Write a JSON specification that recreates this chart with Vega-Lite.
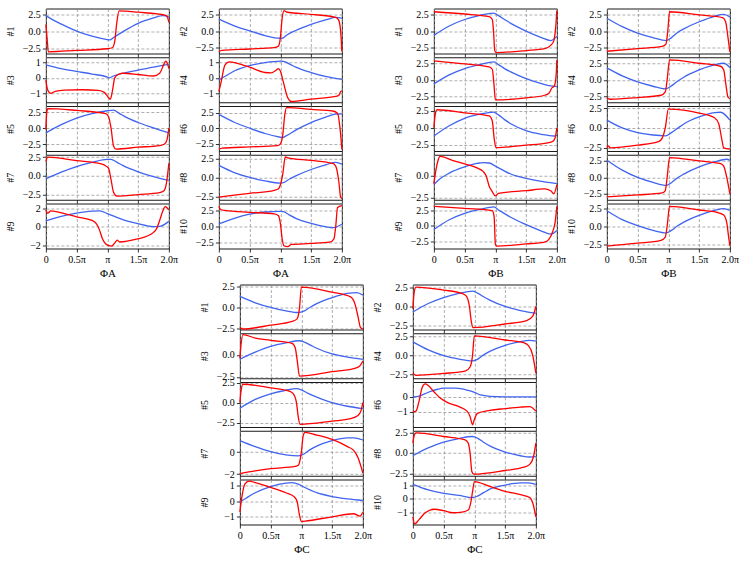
{
"$schema":"https://vega.github.io/schema/vega-lite/v6.json",
"padding":{"left":4.5,"top":6.5,"right":2,"bottom":2},
"config":{
 "font":"Liberation Serif",
 "view":{"stroke":"#1a1a1a","strokeWidth":1},
 "range":{"category":["#4064f0","#ff0000"]},
 "line":{"strokeWidth":1.3,"interpolate":"monotone","clip":true},
 "axis":{"labelFont":"Liberation Serif","labelFontSize":10,"labelColor":"#000","titleFont":"Liberation Serif","titleFontSize":10,"titleFontWeight":"normal","titleColor":"#000","gridColor":"#8c8c8c","gridDash":[3,2],"gridWidth":0.7,"tickColor":"#000","tickSize":3.5,"tickWidth":0.8,"domain":false,"labelPadding":2,"labelOverlap":false,"labelFlush":false},
 "axisY":{"titleX":-30,"titleY":22.5,"titleAngle":270,"titleBaseline":"bottom","titleAlign":"center"},
 "axisX":{"titlePadding":3,"titleFontSize":11}
},
"data":{"values":[
{"g":"A1","s":"b","x":0,"y":2.3},{"g":"A1","s":"b","x":0.1,"y":1.75},{"g":"A1","s":"b","x":0.25,"y":1.05},{"g":"A1","s":"b","x":0.5,"y":0},{"g":"A1","s":"b","x":0.75,"y":-0.75},{"g":"A1","s":"b","x":1.0,"y":-1.25},{"g":"A1","s":"b","x":1.04,"y":-1.3},{"g":"A1","s":"b","x":1.1,"y":-0.95},{"g":"A1","s":"b","x":1.25,"y":-0.1},{"g":"A1","s":"b","x":1.5,"y":1.15},{"g":"A1","s":"b","x":1.75,"y":1.95},{"g":"A1","s":"b","x":1.9,"y":2.3},{"g":"A1","s":"b","x":2.0,"y":2.1},
{"g":"A1","s":"r","x":0,"y":1.0},{"g":"A1","s":"r","x":0.02,"y":-1.0},{"g":"A1","s":"r","x":0.04,"y":-3.05},{"g":"A1","s":"r","x":0.5,"y":-2.85},{"g":"A1","s":"r","x":1.0,"y":-2.6},{"g":"A1","s":"r","x":1.08,"y":-2.45},{"g":"A1","s":"r","x":1.12,"y":-1.5},{"g":"A1","s":"r","x":1.15,"y":1.0},{"g":"A1","s":"r","x":1.19,"y":3.0},{"g":"A1","s":"r","x":1.5,"y":2.8},{"g":"A1","s":"r","x":1.95,"y":2.35},{"g":"A1","s":"r","x":1.98,"y":2.0},{"g":"A1","s":"r","x":2.0,"y":1.3},
{"g":"A2","s":"b","x":0,"y":1.8},{"g":"A2","s":"b","x":0.25,"y":0.8},{"g":"A2","s":"b","x":0.5,"y":0.05},{"g":"A2","s":"b","x":0.75,"y":-0.65},{"g":"A2","s":"b","x":1.0,"y":-1.05},{"g":"A2","s":"b","x":1.03,"y":-1.05},{"g":"A2","s":"b","x":1.1,"y":-0.6},{"g":"A2","s":"b","x":1.25,"y":0.1},{"g":"A2","s":"b","x":1.5,"y":1.0},{"g":"A2","s":"b","x":1.75,"y":1.7},{"g":"A2","s":"b","x":1.9,"y":2.05},{"g":"A2","s":"b","x":2.0,"y":1.95},
{"g":"A2","s":"r","x":0,"y":-3.05},{"g":"A2","s":"r","x":0.05,"y":-2.85},{"g":"A2","s":"r","x":0.5,"y":-2.65},{"g":"A2","s":"r","x":0.9,"y":-2.45},{"g":"A2","s":"r","x":0.97,"y":-2.2},{"g":"A2","s":"r","x":1.0,"y":-1.0},{"g":"A2","s":"r","x":1.03,"y":2.0},{"g":"A2","s":"r","x":1.06,"y":3.05},{"g":"A2","s":"r","x":1.1,"y":2.85},{"g":"A2","s":"r","x":1.5,"y":2.5},{"g":"A2","s":"r","x":1.9,"y":2.05},{"g":"A2","s":"r","x":1.95,"y":1.6},{"g":"A2","s":"r","x":1.98,"y":0},{"g":"A2","s":"r","x":2.0,"y":-3.0},
{"g":"A3","s":"b","x":0,"y":0.85},{"g":"A3","s":"b","x":0.25,"y":0.6},{"g":"A3","s":"b","x":0.5,"y":0.42},{"g":"A3","s":"b","x":0.75,"y":0.25},{"g":"A3","s":"b","x":1.0,"y":0.05},{"g":"A3","s":"b","x":1.03,"y":0.0},{"g":"A3","s":"b","x":1.1,"y":0.12},{"g":"A3","s":"b","x":1.25,"y":0.3},{"g":"A3","s":"b","x":1.5,"y":0.5},{"g":"A3","s":"b","x":1.75,"y":0.7},{"g":"A3","s":"b","x":2.0,"y":0.88},
{"g":"A3","s":"r","x":0,"y":-0.15},{"g":"A3","s":"r","x":0.03,"y":-0.8},{"g":"A3","s":"r","x":0.08,"y":-1.02},{"g":"A3","s":"r","x":0.15,"y":-0.88},{"g":"A3","s":"r","x":0.3,"y":-0.8},{"g":"A3","s":"r","x":0.6,"y":-0.78},{"g":"A3","s":"r","x":0.85,"y":-0.82},{"g":"A3","s":"r","x":0.95,"y":-0.95},{"g":"A3","s":"r","x":1.02,"y":-1.3},{"g":"A3","s":"r","x":1.05,"y":-1.4},{"g":"A3","s":"r","x":1.08,"y":-0.9},{"g":"A3","s":"r","x":1.12,"y":0.0},{"g":"A3","s":"r","x":1.17,"y":0.2},{"g":"A3","s":"r","x":1.25,"y":0.3},{"g":"A3","s":"r","x":1.5,"y":0.22},{"g":"A3","s":"r","x":1.75,"y":0.12},{"g":"A3","s":"r","x":1.85,"y":0.3},{"g":"A3","s":"r","x":1.92,"y":0.9},{"g":"A3","s":"r","x":1.95,"y":1.1},{"g":"A3","s":"r","x":1.98,"y":0.9},{"g":"A3","s":"r","x":2.0,"y":0.6},
{"g":"A4","s":"b","x":0,"y":-0.15},{"g":"A4","s":"b","x":0.1,"y":0.1},{"g":"A4","s":"b","x":0.25,"y":0.45},{"g":"A4","s":"b","x":0.5,"y":0.8},{"g":"A4","s":"b","x":0.75,"y":1.0},{"g":"A4","s":"b","x":1.0,"y":1.1},{"g":"A4","s":"b","x":1.05,"y":1.08},{"g":"A4","s":"b","x":1.15,"y":0.9},{"g":"A4","s":"b","x":1.25,"y":0.7},{"g":"A4","s":"b","x":1.5,"y":0.35},{"g":"A4","s":"b","x":1.75,"y":0.08},{"g":"A4","s":"b","x":2.0,"y":-0.1},
{"g":"A4","s":"r","x":0,"y":-0.9},{"g":"A4","s":"r","x":0.03,"y":-0.4},{"g":"A4","s":"r","x":0.1,"y":0.85},{"g":"A4","s":"r","x":0.17,"y":1.05},{"g":"A4","s":"r","x":0.3,"y":0.95},{"g":"A4","s":"r","x":0.5,"y":0.7},{"g":"A4","s":"r","x":0.75,"y":0.35},{"g":"A4","s":"r","x":0.85,"y":0.32},{"g":"A4","s":"r","x":0.93,"y":0.5},{"g":"A4","s":"r","x":0.97,"y":0.6},{"g":"A4","s":"r","x":1.0,"y":0.45},{"g":"A4","s":"r","x":1.05,"y":-0.3},{"g":"A4","s":"r","x":1.12,"y":-1.3},{"g":"A4","s":"r","x":1.18,"y":-1.55},{"g":"A4","s":"r","x":1.5,"y":-1.4},{"g":"A4","s":"r","x":1.9,"y":-1.22},{"g":"A4","s":"r","x":1.95,"y":-1.15},{"g":"A4","s":"r","x":1.98,"y":-0.9},{"g":"A4","s":"r","x":2.0,"y":-0.85},
{"g":"A5","s":"b","x":0,"y":-0.75},{"g":"A5","s":"b","x":0.25,"y":0.55},{"g":"A5","s":"b","x":0.5,"y":1.6},{"g":"A5","s":"b","x":0.75,"y":2.3},{"g":"A5","s":"b","x":1.0,"y":2.75},{"g":"A5","s":"b","x":1.1,"y":2.85},{"g":"A5","s":"b","x":1.2,"y":2.3},{"g":"A5","s":"b","x":1.3,"y":1.75},{"g":"A5","s":"b","x":1.5,"y":0.9},{"g":"A5","s":"b","x":1.75,"y":0.05},{"g":"A5","s":"b","x":2.0,"y":-0.75},
{"g":"A5","s":"r","x":0,"y":-0.2},{"g":"A5","s":"r","x":0.015,"y":2.5},{"g":"A5","s":"r","x":0.03,"y":3.1},{"g":"A5","s":"r","x":0.5,"y":2.8},{"g":"A5","s":"r","x":0.97,"y":2.3},{"g":"A5","s":"r","x":1.02,"y":1.8},{"g":"A5","s":"r","x":1.06,"y":0.0},{"g":"A5","s":"r","x":1.1,"y":-2.8},{"g":"A5","s":"r","x":1.14,"y":-3.3},{"g":"A5","s":"r","x":1.5,"y":-3.0},{"g":"A5","s":"r","x":1.85,"y":-2.75},{"g":"A5","s":"r","x":1.93,"y":-2.5},{"g":"A5","s":"r","x":1.97,"y":-1.8},{"g":"A5","s":"r","x":2.0,"y":0.0},
{"g":"A6","s":"b","x":0,"y":2.2},{"g":"A6","s":"b","x":0.25,"y":0.95},{"g":"A6","s":"b","x":0.5,"y":0},{"g":"A6","s":"b","x":0.75,"y":-0.85},{"g":"A6","s":"b","x":1.0,"y":-1.45},{"g":"A6","s":"b","x":1.03,"y":-1.5},{"g":"A6","s":"b","x":1.1,"y":-1.2},{"g":"A6","s":"b","x":1.25,"y":-0.3},{"g":"A6","s":"b","x":1.5,"y":0.9},{"g":"A6","s":"b","x":1.75,"y":1.8},{"g":"A6","s":"b","x":1.9,"y":2.25},{"g":"A6","s":"b","x":2.0,"y":2.3},
{"g":"A6","s":"r","x":0,"y":-3.4},{"g":"A6","s":"r","x":0.05,"y":-3.2},{"g":"A6","s":"r","x":0.5,"y":-3.0},{"g":"A6","s":"r","x":0.95,"y":-2.8},{"g":"A6","s":"r","x":1.0,"y":-2.5},{"g":"A6","s":"r","x":1.04,"y":-1.0},{"g":"A6","s":"r","x":1.07,"y":2.0},{"g":"A6","s":"r","x":1.1,"y":3.3},{"g":"A6","s":"r","x":1.5,"y":3.0},{"g":"A6","s":"r","x":1.85,"y":2.75},{"g":"A6","s":"r","x":1.93,"y":2.4},{"g":"A6","s":"r","x":1.97,"y":0},{"g":"A6","s":"r","x":2.0,"y":-3.4},
{"g":"A7","s":"b","x":0,"y":-0.4},{"g":"A7","s":"b","x":0.25,"y":0.5},{"g":"A7","s":"b","x":0.5,"y":1.25},{"g":"A7","s":"b","x":0.75,"y":1.8},{"g":"A7","s":"b","x":1.0,"y":2.2},{"g":"A7","s":"b","x":1.06,"y":2.2},{"g":"A7","s":"b","x":1.15,"y":1.85},{"g":"A7","s":"b","x":1.25,"y":1.4},{"g":"A7","s":"b","x":1.5,"y":0.55},{"g":"A7","s":"b","x":1.75,"y":-0.1},{"g":"A7","s":"b","x":2.0,"y":-0.6},
{"g":"A7","s":"r","x":0,"y":1.9},{"g":"A7","s":"r","x":0.03,"y":2.5},{"g":"A7","s":"r","x":0.5,"y":2.05},{"g":"A7","s":"r","x":0.9,"y":1.6},{"g":"A7","s":"r","x":0.97,"y":1.35},{"g":"A7","s":"r","x":1.02,"y":1.0},{"g":"A7","s":"r","x":1.06,"y":-0.5},{"g":"A7","s":"r","x":1.1,"y":-2.2},{"g":"A7","s":"r","x":1.15,"y":-2.7},{"g":"A7","s":"r","x":1.5,"y":-2.5},{"g":"A7","s":"r","x":1.85,"y":-2.25},{"g":"A7","s":"r","x":1.92,"y":-2.0},{"g":"A7","s":"r","x":1.96,"y":-1.0},{"g":"A7","s":"r","x":2.0,"y":1.7},
{"g":"A8","s":"b","x":0,"y":1.6},{"g":"A8","s":"b","x":0.25,"y":0.65},{"g":"A8","s":"b","x":0.5,"y":0},{"g":"A8","s":"b","x":0.75,"y":-0.45},{"g":"A8","s":"b","x":1.0,"y":-0.75},{"g":"A8","s":"b","x":1.05,"y":-0.7},{"g":"A8","s":"b","x":1.15,"y":-0.2},{"g":"A8","s":"b","x":1.25,"y":0.2},{"g":"A8","s":"b","x":1.5,"y":1.05},{"g":"A8","s":"b","x":1.75,"y":1.7},{"g":"A8","s":"b","x":1.9,"y":2.0},{"g":"A8","s":"b","x":2.0,"y":1.75},
{"g":"A8","s":"r","x":0,"y":-2.6},{"g":"A8","s":"r","x":0.5,"y":-2.1},{"g":"A8","s":"r","x":0.9,"y":-1.7},{"g":"A8","s":"r","x":0.97,"y":-1.5},{"g":"A8","s":"r","x":1.0,"y":-1.0},{"g":"A8","s":"r","x":1.04,"y":0.5},{"g":"A8","s":"r","x":1.08,"y":2.7},{"g":"A8","s":"r","x":1.12,"y":2.6},{"g":"A8","s":"r","x":1.5,"y":2.25},{"g":"A8","s":"r","x":1.85,"y":1.85},{"g":"A8","s":"r","x":1.9,"y":1.5},{"g":"A8","s":"r","x":1.95,"y":-0.5},{"g":"A8","s":"r","x":1.98,"y":-2.6},{"g":"A8","s":"r","x":2.0,"y":-2.8},
{"g":"A9","s":"b","x":0,"y":0.65},{"g":"A9","s":"b","x":0.25,"y":1.15},{"g":"A9","s":"b","x":0.5,"y":1.5},{"g":"A9","s":"b","x":0.75,"y":1.72},{"g":"A9","s":"b","x":0.88,"y":1.75},{"g":"A9","s":"b","x":1.0,"y":1.45},{"g":"A9","s":"b","x":1.25,"y":0.8},{"g":"A9","s":"b","x":1.5,"y":0.35},{"g":"A9","s":"b","x":1.75,"y":0.02},{"g":"A9","s":"b","x":1.85,"y":0.05},{"g":"A9","s":"b","x":2.0,"y":0.6},
{"g":"A9","s":"r","x":0,"y":1.85},{"g":"A9","s":"r","x":0.03,"y":1.5},{"g":"A9","s":"r","x":0.08,"y":1.75},{"g":"A9","s":"r","x":0.3,"y":1.45},{"g":"A9","s":"r","x":0.5,"y":1.1},{"g":"A9","s":"r","x":0.75,"y":0.7},{"g":"A9","s":"r","x":0.82,"y":0.35},{"g":"A9","s":"r","x":0.87,"y":-0.3},{"g":"A9","s":"r","x":0.92,"y":-1.3},{"g":"A9","s":"r","x":0.97,"y":-1.85},{"g":"A9","s":"r","x":1.03,"y":-2.05},{"g":"A9","s":"r","x":1.07,"y":-2.1},{"g":"A9","s":"r","x":1.12,"y":-1.75},{"g":"A9","s":"r","x":1.16,"y":-1.45},{"g":"A9","s":"r","x":1.2,"y":-1.65},{"g":"A9","s":"r","x":1.5,"y":-1.3},{"g":"A9","s":"r","x":1.65,"y":-1.0},{"g":"A9","s":"r","x":1.75,"y":-0.6},{"g":"A9","s":"r","x":1.8,"y":-0.2},{"g":"A9","s":"r","x":1.85,"y":0.7},{"g":"A9","s":"r","x":1.9,"y":1.7},{"g":"A9","s":"r","x":1.94,"y":2.2},{"g":"A9","s":"r","x":2.0,"y":1.85},
{"g":"A10","s":"b","x":0,"y":0.4},{"g":"A10","s":"b","x":0.25,"y":1.3},{"g":"A10","s":"b","x":0.5,"y":1.95},{"g":"A10","s":"b","x":0.75,"y":2.3},{"g":"A10","s":"b","x":1.0,"y":2.4},{"g":"A10","s":"b","x":1.05,"y":2.35},{"g":"A10","s":"b","x":1.15,"y":1.8},{"g":"A10","s":"b","x":1.25,"y":1.3},{"g":"A10","s":"b","x":1.5,"y":0.5},{"g":"A10","s":"b","x":1.75,"y":-0.05},{"g":"A10","s":"b","x":1.85,"y":-0.2},{"g":"A10","s":"b","x":2.0,"y":0.35},
{"g":"A10","s":"r","x":0,"y":3.2},{"g":"A10","s":"r","x":0.03,"y":2.7},{"g":"A10","s":"r","x":0.1,"y":2.55},{"g":"A10","s":"r","x":0.5,"y":2.25},{"g":"A10","s":"r","x":0.9,"y":2.0},{"g":"A10","s":"r","x":0.97,"y":1.7},{"g":"A10","s":"r","x":1.0,"y":0.5},{"g":"A10","s":"r","x":1.03,"y":-2.0},{"g":"A10","s":"r","x":1.06,"y":-3.1},{"g":"A10","s":"r","x":1.12,"y":-3.2},{"g":"A10","s":"r","x":1.18,"y":-2.85},{"g":"A10","s":"r","x":1.5,"y":-2.7},{"g":"A10","s":"r","x":1.8,"y":-2.5},{"g":"A10","s":"r","x":1.87,"y":-2.0},{"g":"A10","s":"r","x":1.9,"y":0.0},{"g":"A10","s":"r","x":1.93,"y":3.0},{"g":"A10","s":"r","x":2.0,"y":3.3},
{"g":"B1","s":"b","x":0,"y":-0.65},{"g":"B1","s":"b","x":0.25,"y":0.8},{"g":"B1","s":"b","x":0.5,"y":1.8},{"g":"B1","s":"b","x":0.75,"y":2.45},{"g":"B1","s":"b","x":0.97,"y":2.8},{"g":"B1","s":"b","x":1.05,"y":2.4},{"g":"B1","s":"b","x":1.15,"y":1.8},{"g":"B1","s":"b","x":1.25,"y":1.2},{"g":"B1","s":"b","x":1.5,"y":0.0},{"g":"B1","s":"b","x":1.75,"y":-1.0},{"g":"B1","s":"b","x":1.9,"y":-1.45},{"g":"B1","s":"b","x":2.0,"y":-0.8},
{"g":"B1","s":"r","x":0,"y":3.0},{"g":"B1","s":"r","x":0.5,"y":2.65},{"g":"B1","s":"r","x":0.9,"y":2.25},{"g":"B1","s":"r","x":0.95,"y":1.8},{"g":"B1","s":"r","x":0.97,"y":0.0},{"g":"B1","s":"r","x":0.99,"y":-3.0},{"g":"B1","s":"r","x":1.01,"y":-3.3},{"g":"B1","s":"r","x":1.5,"y":-3.0},{"g":"B1","s":"r","x":1.8,"y":-2.7},{"g":"B1","s":"r","x":1.9,"y":-2.2},{"g":"B1","s":"r","x":1.95,"y":-1.5},{"g":"B1","s":"r","x":1.98,"y":0.5},{"g":"B1","s":"r","x":2.0,"y":3.2},
{"g":"B2","s":"b","x":0,"y":2.0},{"g":"B2","s":"b","x":0.25,"y":0.7},{"g":"B2","s":"b","x":0.5,"y":-0.3},{"g":"B2","s":"b","x":0.75,"y":-1.0},{"g":"B2","s":"b","x":0.97,"y":-1.45},{"g":"B2","s":"b","x":1.05,"y":-1.0},{"g":"B2","s":"b","x":1.15,"y":-0.2},{"g":"B2","s":"b","x":1.25,"y":0.35},{"g":"B2","s":"b","x":1.5,"y":1.45},{"g":"B2","s":"b","x":1.75,"y":2.3},{"g":"B2","s":"b","x":1.9,"y":2.6},{"g":"B2","s":"b","x":2.0,"y":2.2},
{"g":"B2","s":"r","x":0,"y":-3.1},{"g":"B2","s":"r","x":0.5,"y":-2.7},{"g":"B2","s":"r","x":0.9,"y":-2.35},{"g":"B2","s":"r","x":0.96,"y":-2.0},{"g":"B2","s":"r","x":0.99,"y":0.0},{"g":"B2","s":"r","x":1.02,"y":3.0},{"g":"B2","s":"r","x":1.5,"y":2.5},{"g":"B2","s":"r","x":1.88,"y":2.1},{"g":"B2","s":"r","x":1.93,"y":1.5},{"g":"B2","s":"r","x":1.97,"y":-1.0},{"g":"B2","s":"r","x":2.0,"y":-3.2},
{"g":"B3","s":"b","x":0,"y":-0.6},{"g":"B3","s":"b","x":0.25,"y":0.75},{"g":"B3","s":"b","x":0.5,"y":1.7},{"g":"B3","s":"b","x":0.75,"y":2.3},{"g":"B3","s":"b","x":0.98,"y":2.7},{"g":"B3","s":"b","x":1.05,"y":2.3},{"g":"B3","s":"b","x":1.15,"y":1.7},{"g":"B3","s":"b","x":1.25,"y":1.2},{"g":"B3","s":"b","x":1.5,"y":0.2},{"g":"B3","s":"b","x":1.75,"y":-0.55},{"g":"B3","s":"b","x":1.9,"y":-0.9},{"g":"B3","s":"b","x":2.0,"y":-1.0},
{"g":"B3","s":"r","x":0,"y":2.85},{"g":"B3","s":"r","x":0.5,"y":2.4},{"g":"B3","s":"r","x":0.9,"y":1.95},{"g":"B3","s":"r","x":0.95,"y":1.6},{"g":"B3","s":"r","x":0.98,"y":-1.0},{"g":"B3","s":"r","x":1.0,"y":-3.0},{"g":"B3","s":"r","x":1.5,"y":-2.7},{"g":"B3","s":"r","x":1.8,"y":-2.3},{"g":"B3","s":"r","x":1.87,"y":-2.0},{"g":"B3","s":"r","x":1.92,"y":-1.2},{"g":"B3","s":"r","x":1.96,"y":-0.9},{"g":"B3","s":"r","x":1.99,"y":1.0},{"g":"B3","s":"r","x":2.0,"y":3.0},
{"g":"B4","s":"b","x":0,"y":1.8},{"g":"B4","s":"b","x":0.25,"y":0.6},{"g":"B4","s":"b","x":0.5,"y":-0.3},{"g":"B4","s":"b","x":0.75,"y":-0.95},{"g":"B4","s":"b","x":0.95,"y":-1.35},{"g":"B4","s":"b","x":1.05,"y":-0.9},{"g":"B4","s":"b","x":1.15,"y":-0.2},{"g":"B4","s":"b","x":1.25,"y":0.4},{"g":"B4","s":"b","x":1.5,"y":1.5},{"g":"B4","s":"b","x":1.75,"y":2.25},{"g":"B4","s":"b","x":1.9,"y":2.5},{"g":"B4","s":"b","x":2.0,"y":1.85},
{"g":"B4","s":"r","x":0,"y":-2.7},{"g":"B4","s":"r","x":0.05,"y":-2.9},{"g":"B4","s":"r","x":0.5,"y":-2.65},{"g":"B4","s":"r","x":0.88,"y":-2.3},{"g":"B4","s":"r","x":0.95,"y":-1.8},{"g":"B4","s":"r","x":0.98,"y":0.0},{"g":"B4","s":"r","x":1.02,"y":3.0},{"g":"B4","s":"r","x":1.5,"y":2.5},{"g":"B4","s":"r","x":1.85,"y":2.05},{"g":"B4","s":"r","x":1.9,"y":1.5},{"g":"B4","s":"r","x":1.94,"y":-1.0},{"g":"B4","s":"r","x":1.97,"y":-2.6},{"g":"B4","s":"r","x":2.0,"y":-2.8},
{"g":"B5","s":"b","x":0,"y":-1.2},{"g":"B5","s":"b","x":0.25,"y":0.3},{"g":"B5","s":"b","x":0.5,"y":1.4},{"g":"B5","s":"b","x":0.75,"y":2.0},{"g":"B5","s":"b","x":0.97,"y":2.3},{"g":"B5","s":"b","x":1.05,"y":1.9},{"g":"B5","s":"b","x":1.15,"y":1.2},{"g":"B5","s":"b","x":1.25,"y":0.6},{"g":"B5","s":"b","x":1.5,"y":-0.4},{"g":"B5","s":"b","x":1.75,"y":-0.95},{"g":"B5","s":"b","x":1.95,"y":-1.2},{"g":"B5","s":"b","x":2.0,"y":-1.1},
{"g":"B5","s":"r","x":0,"y":0.0},{"g":"B5","s":"r","x":0.02,"y":1.8},{"g":"B5","s":"r","x":0.05,"y":2.65},{"g":"B5","s":"r","x":0.5,"y":2.2},{"g":"B5","s":"r","x":0.9,"y":1.75},{"g":"B5","s":"r","x":0.95,"y":1.0},{"g":"B5","s":"r","x":0.98,"y":-1.5},{"g":"B5","s":"r","x":1.01,"y":-2.9},{"g":"B5","s":"r","x":1.5,"y":-2.55},{"g":"B5","s":"r","x":1.85,"y":-2.2},{"g":"B5","s":"r","x":1.93,"y":-2.0},{"g":"B5","s":"r","x":1.97,"y":-1.5},{"g":"B5","s":"r","x":2.0,"y":0.0},
{"g":"B6","s":"b","x":0,"y":1.0},{"g":"B6","s":"b","x":0.25,"y":0.0},{"g":"B6","s":"b","x":0.5,"y":-0.6},{"g":"B6","s":"b","x":0.75,"y":-0.9},{"g":"B6","s":"b","x":0.95,"y":-1.0},{"g":"B6","s":"b","x":1.05,"y":-0.6},{"g":"B6","s":"b","x":1.15,"y":-0.05},{"g":"B6","s":"b","x":1.25,"y":0.5},{"g":"B6","s":"b","x":1.5,"y":1.4},{"g":"B6","s":"b","x":1.75,"y":1.95},{"g":"B6","s":"b","x":1.85,"y":2.0},{"g":"B6","s":"b","x":2.0,"y":1.0},
{"g":"B6","s":"r","x":0,"y":-2.5},{"g":"B6","s":"r","x":0.02,"y":-2.3},{"g":"B6","s":"r","x":0.06,"y":-2.55},{"g":"B6","s":"r","x":0.5,"y":-2.2},{"g":"B6","s":"r","x":0.85,"y":-1.7},{"g":"B6","s":"r","x":0.9,"y":-1.3},{"g":"B6","s":"r","x":0.95,"y":0.0},{"g":"B6","s":"r","x":1.0,"y":2.4},{"g":"B6","s":"r","x":1.5,"y":1.9},{"g":"B6","s":"r","x":1.75,"y":1.3},{"g":"B6","s":"r","x":1.82,"y":0.5},{"g":"B6","s":"r","x":1.87,"y":-1.5},{"g":"B6","s":"r","x":1.9,"y":-2.55},{"g":"B6","s":"r","x":2.0,"y":-2.7},
{"g":"B7","s":"b","x":0,"y":-1.0},{"g":"B7","s":"b","x":0.1,"y":-0.35},{"g":"B7","s":"b","x":0.25,"y":0.3},{"g":"B7","s":"b","x":0.5,"y":1.0},{"g":"B7","s":"b","x":0.7,"y":1.4},{"g":"B7","s":"b","x":0.8,"y":1.5},{"g":"B7","s":"b","x":0.9,"y":1.45},{"g":"B7","s":"b","x":1.0,"y":1.1},{"g":"B7","s":"b","x":1.25,"y":0.2},{"g":"B7","s":"b","x":1.5,"y":-0.3},{"g":"B7","s":"b","x":1.75,"y":-0.65},{"g":"B7","s":"b","x":2.0,"y":-0.9},
{"g":"B7","s":"r","x":0,"y":-0.9},{"g":"B7","s":"r","x":0.03,"y":0.5},{"g":"B7","s":"r","x":0.07,"y":1.8},{"g":"B7","s":"r","x":0.1,"y":2.2},{"g":"B7","s":"r","x":0.3,"y":1.75},{"g":"B7","s":"r","x":0.5,"y":1.35},{"g":"B7","s":"r","x":0.7,"y":0.9},{"g":"B7","s":"r","x":0.8,"y":0.5},{"g":"B7","s":"r","x":0.85,"y":0.0},{"g":"B7","s":"r","x":0.9,"y":-1.2},{"g":"B7","s":"r","x":0.95,"y":-1.8},{"g":"B7","s":"r","x":1.0,"y":-2.3},{"g":"B7","s":"r","x":1.05,"y":-2.0},{"g":"B7","s":"r","x":1.5,"y":-1.7},{"g":"B7","s":"r","x":1.8,"y":-1.5},{"g":"B7","s":"r","x":1.9,"y":-1.7},{"g":"B7","s":"r","x":1.95,"y":-2.05},{"g":"B7","s":"r","x":2.0,"y":-1.0},
{"g":"B8","s":"b","x":0,"y":2.6},{"g":"B8","s":"b","x":0.25,"y":1.1},{"g":"B8","s":"b","x":0.5,"y":0.0},{"g":"B8","s":"b","x":0.75,"y":-0.75},{"g":"B8","s":"b","x":0.97,"y":-1.2},{"g":"B8","s":"b","x":1.05,"y":-0.8},{"g":"B8","s":"b","x":1.15,"y":-0.05},{"g":"B8","s":"b","x":1.25,"y":0.5},{"g":"B8","s":"b","x":1.5,"y":1.6},{"g":"B8","s":"b","x":1.75,"y":2.35},{"g":"B8","s":"b","x":1.95,"y":2.75},{"g":"B8","s":"b","x":2.0,"y":2.6},
{"g":"B8","s":"r","x":0,"y":-2.95},{"g":"B8","s":"r","x":0.5,"y":-2.65},{"g":"B8","s":"r","x":0.9,"y":-2.35},{"g":"B8","s":"r","x":0.95,"y":-2.0},{"g":"B8","s":"r","x":0.98,"y":0.0},{"g":"B8","s":"r","x":1.02,"y":3.0},{"g":"B8","s":"r","x":1.5,"y":2.5},{"g":"B8","s":"r","x":1.85,"y":2.1},{"g":"B8","s":"r","x":1.9,"y":1.7},{"g":"B8","s":"r","x":1.95,"y":0.0},{"g":"B8","s":"r","x":2.0,"y":-2.5},
{"g":"B9","s":"b","x":0,"y":-0.6},{"g":"B9","s":"b","x":0.25,"y":1.0},{"g":"B9","s":"b","x":0.5,"y":2.05},{"g":"B9","s":"b","x":0.75,"y":2.7},{"g":"B9","s":"b","x":0.98,"y":3.1},{"g":"B9","s":"b","x":1.05,"y":2.6},{"g":"B9","s":"b","x":1.15,"y":2.0},{"g":"B9","s":"b","x":1.25,"y":1.4},{"g":"B9","s":"b","x":1.5,"y":0.2},{"g":"B9","s":"b","x":1.75,"y":-0.85},{"g":"B9","s":"b","x":1.9,"y":-1.35},{"g":"B9","s":"b","x":2.0,"y":-0.75},
{"g":"B9","s":"r","x":0,"y":3.2},{"g":"B9","s":"r","x":0.5,"y":2.85},{"g":"B9","s":"r","x":0.95,"y":2.5},{"g":"B9","s":"r","x":0.98,"y":1.5},{"g":"B9","s":"r","x":1.0,"y":-3.0},{"g":"B9","s":"r","x":1.02,"y":-3.3},{"g":"B9","s":"r","x":1.5,"y":-2.95},{"g":"B9","s":"r","x":1.8,"y":-2.65},{"g":"B9","s":"r","x":1.87,"y":-2.2},{"g":"B9","s":"r","x":1.93,"y":-1.0},{"g":"B9","s":"r","x":1.97,"y":0.5},{"g":"B9","s":"r","x":2.0,"y":3.2},
{"g":"B10","s":"b","x":0,"y":2.2},{"g":"B10","s":"b","x":0.25,"y":0.95},{"g":"B10","s":"b","x":0.5,"y":0.1},{"g":"B10","s":"b","x":0.75,"y":-0.55},{"g":"B10","s":"b","x":0.97,"y":-0.9},{"g":"B10","s":"b","x":1.05,"y":-0.55},{"g":"B10","s":"b","x":1.15,"y":0.1},{"g":"B10","s":"b","x":1.25,"y":0.6},{"g":"B10","s":"b","x":1.5,"y":1.55},{"g":"B10","s":"b","x":1.75,"y":2.25},{"g":"B10","s":"b","x":1.9,"y":2.5},{"g":"B10","s":"b","x":2.0,"y":2.25},
{"g":"B10","s":"r","x":0,"y":-2.75},{"g":"B10","s":"r","x":0.5,"y":-2.35},{"g":"B10","s":"r","x":0.88,"y":-1.95},{"g":"B10","s":"r","x":0.95,"y":-1.5},{"g":"B10","s":"r","x":0.98,"y":0.0},{"g":"B10","s":"r","x":1.02,"y":2.8},{"g":"B10","s":"r","x":1.5,"y":2.3},{"g":"B10","s":"r","x":1.8,"y":1.95},{"g":"B10","s":"r","x":1.9,"y":1.6},{"g":"B10","s":"r","x":1.95,"y":0.5},{"g":"B10","s":"r","x":1.98,"y":-1.5},{"g":"B10","s":"r","x":2.0,"y":-2.7},
{"g":"C1","s":"b","x":0,"y":1.35},{"g":"C1","s":"b","x":0.25,"y":0.6},{"g":"C1","s":"b","x":0.5,"y":0.05},{"g":"C1","s":"b","x":0.75,"y":-0.35},{"g":"C1","s":"b","x":0.95,"y":-0.55},{"g":"C1","s":"b","x":1.05,"y":-0.35},{"g":"C1","s":"b","x":1.15,"y":0.1},{"g":"C1","s":"b","x":1.25,"y":0.5},{"g":"C1","s":"b","x":1.5,"y":1.2},{"g":"C1","s":"b","x":1.75,"y":1.7},{"g":"C1","s":"b","x":1.9,"y":1.8},{"g":"C1","s":"b","x":2.0,"y":1.5},
{"g":"C1","s":"r","x":0,"y":-2.3},{"g":"C1","s":"r","x":0.05,"y":-2.5},{"g":"C1","s":"r","x":0.5,"y":-2.05},{"g":"C1","s":"r","x":0.85,"y":-1.6},{"g":"C1","s":"r","x":0.93,"y":-1.3},{"g":"C1","s":"r","x":0.97,"y":0.0},{"g":"C1","s":"r","x":1.0,"y":2.45},{"g":"C1","s":"r","x":1.5,"y":1.85},{"g":"C1","s":"r","x":1.8,"y":1.3},{"g":"C1","s":"r","x":1.87,"y":0.5},{"g":"C1","s":"r","x":1.92,"y":-1.0},{"g":"C1","s":"r","x":1.96,"y":-2.3},{"g":"C1","s":"r","x":2.0,"y":-2.5},
{"g":"C2","s":"b","x":0,"y":-0.75},{"g":"C2","s":"b","x":0.25,"y":0.4},{"g":"C2","s":"b","x":0.5,"y":1.2},{"g":"C2","s":"b","x":0.75,"y":1.75},{"g":"C2","s":"b","x":0.97,"y":2.05},{"g":"C2","s":"b","x":1.05,"y":1.8},{"g":"C2","s":"b","x":1.15,"y":1.3},{"g":"C2","s":"b","x":1.25,"y":0.85},{"g":"C2","s":"b","x":1.5,"y":0.0},{"g":"C2","s":"b","x":1.75,"y":-0.55},{"g":"C2","s":"b","x":2.0,"y":-0.9},
{"g":"C2","s":"r","x":0,"y":-0.3},{"g":"C2","s":"r","x":0.02,"y":1.8},{"g":"C2","s":"r","x":0.05,"y":2.6},{"g":"C2","s":"r","x":0.5,"y":2.2},{"g":"C2","s":"r","x":0.8,"y":1.75},{"g":"C2","s":"r","x":0.87,"y":1.4},{"g":"C2","s":"r","x":0.92,"y":0.0},{"g":"C2","s":"r","x":0.95,"y":-2.0},{"g":"C2","s":"r","x":0.98,"y":-2.85},{"g":"C2","s":"r","x":1.5,"y":-2.35},{"g":"C2","s":"r","x":1.85,"y":-1.9},{"g":"C2","s":"r","x":1.95,"y":-1.3},{"g":"C2","s":"r","x":2.0,"y":0.0},
{"g":"C3","s":"b","x":0,"y":-0.5},{"g":"C3","s":"b","x":0.25,"y":0.3},{"g":"C3","s":"b","x":0.5,"y":0.95},{"g":"C3","s":"b","x":0.75,"y":1.35},{"g":"C3","s":"b","x":0.97,"y":1.6},{"g":"C3","s":"b","x":1.05,"y":1.45},{"g":"C3","s":"b","x":1.15,"y":1.1},{"g":"C3","s":"b","x":1.25,"y":0.75},{"g":"C3","s":"b","x":1.5,"y":0.1},{"g":"C3","s":"b","x":1.75,"y":-0.25},{"g":"C3","s":"b","x":2.0,"y":-0.5},
{"g":"C3","s":"r","x":0,"y":-0.4},{"g":"C3","s":"r","x":0.02,"y":1.2},{"g":"C3","s":"r","x":0.05,"y":2.3},{"g":"C3","s":"r","x":0.25,"y":1.9},{"g":"C3","s":"r","x":0.5,"y":1.65},{"g":"C3","s":"r","x":0.85,"y":1.3},{"g":"C3","s":"r","x":0.9,"y":0.8},{"g":"C3","s":"r","x":0.93,"y":-0.5},{"g":"C3","s":"r","x":0.97,"y":-2.4},{"g":"C3","s":"r","x":1.5,"y":-1.9},{"g":"C3","s":"r","x":1.85,"y":-1.55},{"g":"C3","s":"r","x":1.95,"y":-1.25},{"g":"C3","s":"r","x":2.0,"y":-0.7},
{"g":"C4","s":"b","x":0,"y":1.8},{"g":"C4","s":"b","x":0.25,"y":0.75},{"g":"C4","s":"b","x":0.5,"y":0.0},{"g":"C4","s":"b","x":0.75,"y":-0.45},{"g":"C4","s":"b","x":0.97,"y":-0.7},{"g":"C4","s":"b","x":1.05,"y":-0.5},{"g":"C4","s":"b","x":1.15,"y":0.1},{"g":"C4","s":"b","x":1.25,"y":0.55},{"g":"C4","s":"b","x":1.5,"y":1.35},{"g":"C4","s":"b","x":1.75,"y":1.85},{"g":"C4","s":"b","x":1.9,"y":2.0},{"g":"C4","s":"b","x":2.0,"y":1.9},
{"g":"C4","s":"r","x":0,"y":-2.3},{"g":"C4","s":"r","x":0.05,"y":-2.6},{"g":"C4","s":"r","x":0.5,"y":-2.35},{"g":"C4","s":"r","x":0.85,"y":-2.05},{"g":"C4","s":"r","x":0.93,"y":-1.5},{"g":"C4","s":"r","x":0.97,"y":0.0},{"g":"C4","s":"r","x":1.0,"y":2.6},{"g":"C4","s":"r","x":1.5,"y":2.05},{"g":"C4","s":"r","x":1.8,"y":1.7},{"g":"C4","s":"r","x":1.88,"y":1.3},{"g":"C4","s":"r","x":1.95,"y":0.0},{"g":"C4","s":"r","x":2.0,"y":-2.3},
{"g":"C5","s":"b","x":0,"y":-0.7},{"g":"C5","s":"b","x":0.25,"y":0.4},{"g":"C5","s":"b","x":0.5,"y":1.1},{"g":"C5","s":"b","x":0.75,"y":1.55},{"g":"C5","s":"b","x":0.92,"y":1.75},{"g":"C5","s":"b","x":1.0,"y":1.6},{"g":"C5","s":"b","x":1.1,"y":1.2},{"g":"C5","s":"b","x":1.25,"y":0.7},{"g":"C5","s":"b","x":1.5,"y":0.0},{"g":"C5","s":"b","x":1.75,"y":-0.45},{"g":"C5","s":"b","x":2.0,"y":-0.75},
{"g":"C5","s":"r","x":0,"y":0.0},{"g":"C5","s":"r","x":0.02,"y":1.5},{"g":"C5","s":"r","x":0.05,"y":2.3},{"g":"C5","s":"r","x":0.5,"y":1.85},{"g":"C5","s":"r","x":0.8,"y":1.45},{"g":"C5","s":"r","x":0.87,"y":1.1},{"g":"C5","s":"r","x":0.92,"y":0.0},{"g":"C5","s":"r","x":0.95,"y":-1.8},{"g":"C5","s":"r","x":0.98,"y":-2.7},{"g":"C5","s":"r","x":1.5,"y":-2.3},{"g":"C5","s":"r","x":1.8,"y":-2.0},{"g":"C5","s":"r","x":1.92,"y":-1.6},{"g":"C5","s":"r","x":1.97,"y":-1.0},{"g":"C5","s":"r","x":2.0,"y":0.0},
{"g":"C6","s":"b","x":0,"y":0.0},{"g":"C6","s":"b","x":0.1,"y":0.05},{"g":"C6","s":"b","x":0.25,"y":0.3},{"g":"C6","s":"b","x":0.4,"y":0.5},{"g":"C6","s":"b","x":0.5,"y":0.57},{"g":"C6","s":"b","x":0.7,"y":0.57},{"g":"C6","s":"b","x":0.9,"y":0.42},{"g":"C6","s":"b","x":1.0,"y":0.3},{"g":"C6","s":"b","x":1.1,"y":0.12},{"g":"C6","s":"b","x":1.25,"y":0.03},{"g":"C6","s":"b","x":1.5,"y":0.0},{"g":"C6","s":"b","x":2.0,"y":0.0},
{"g":"C6","s":"r","x":0,"y":-1.0},{"g":"C6","s":"r","x":0.05,"y":-0.95},{"g":"C6","s":"r","x":0.1,"y":-0.3},{"g":"C6","s":"r","x":0.15,"y":0.6},{"g":"C6","s":"r","x":0.2,"y":0.85},{"g":"C6","s":"r","x":0.25,"y":0.75},{"g":"C6","s":"r","x":0.35,"y":0.3},{"g":"C6","s":"r","x":0.45,"y":-0.1},{"g":"C6","s":"r","x":0.55,"y":-0.35},{"g":"C6","s":"r","x":0.75,"y":-0.65},{"g":"C6","s":"r","x":0.88,"y":-0.95},{"g":"C6","s":"r","x":0.93,"y":-1.3},{"g":"C6","s":"r","x":0.97,"y":-1.85},{"g":"C6","s":"r","x":1.0,"y":-1.5},{"g":"C6","s":"r","x":1.05,"y":-1.1},{"g":"C6","s":"r","x":1.25,"y":-0.9},{"g":"C6","s":"r","x":1.5,"y":-0.78},{"g":"C6","s":"r","x":1.75,"y":-0.68},{"g":"C6","s":"r","x":1.9,"y":-0.65},{"g":"C6","s":"r","x":2.0,"y":-0.95},
{"g":"C7","s":"b","x":0,"y":1.05},{"g":"C7","s":"b","x":0.25,"y":0.5},{"g":"C7","s":"b","x":0.5,"y":0.05},{"g":"C7","s":"b","x":0.75,"y":-0.25},{"g":"C7","s":"b","x":0.95,"y":-0.35},{"g":"C7","s":"b","x":1.05,"y":-0.15},{"g":"C7","s":"b","x":1.15,"y":0.25},{"g":"C7","s":"b","x":1.25,"y":0.55},{"g":"C7","s":"b","x":1.5,"y":1.05},{"g":"C7","s":"b","x":1.75,"y":1.3},{"g":"C7","s":"b","x":1.85,"y":1.3},{"g":"C7","s":"b","x":2.0,"y":1.1},
{"g":"C7","s":"r","x":0,"y":-1.95},{"g":"C7","s":"r","x":0.25,"y":-1.7},{"g":"C7","s":"r","x":0.5,"y":-1.5},{"g":"C7","s":"r","x":0.9,"y":-1.3},{"g":"C7","s":"r","x":0.95,"y":-1.2},{"g":"C7","s":"r","x":1.0,"y":0.0},{"g":"C7","s":"r","x":1.03,"y":1.5},{"g":"C7","s":"r","x":1.06,"y":1.8},{"g":"C7","s":"r","x":1.25,"y":1.55},{"g":"C7","s":"r","x":1.5,"y":1.15},{"g":"C7","s":"r","x":1.75,"y":0.5},{"g":"C7","s":"r","x":1.85,"y":0.15},{"g":"C7","s":"r","x":1.92,"y":-0.5},{"g":"C7","s":"r","x":2.0,"y":-1.9},
{"g":"C8","s":"b","x":0,"y":-0.35},{"g":"C8","s":"b","x":0.25,"y":0.6},{"g":"C8","s":"b","x":0.5,"y":1.3},{"g":"C8","s":"b","x":0.75,"y":1.75},{"g":"C8","s":"b","x":0.97,"y":2.0},{"g":"C8","s":"b","x":1.05,"y":1.8},{"g":"C8","s":"b","x":1.15,"y":1.3},{"g":"C8","s":"b","x":1.25,"y":0.85},{"g":"C8","s":"b","x":1.5,"y":0.1},{"g":"C8","s":"b","x":1.75,"y":-0.35},{"g":"C8","s":"b","x":1.9,"y":-0.5},{"g":"C8","s":"b","x":2.0,"y":-0.45},
{"g":"C8","s":"r","x":0,"y":1.2},{"g":"C8","s":"r","x":0.03,"y":2.3},{"g":"C8","s":"r","x":0.06,"y":2.45},{"g":"C8","s":"r","x":0.5,"y":2.0},{"g":"C8","s":"r","x":0.85,"y":1.6},{"g":"C8","s":"r","x":0.9,"y":1.2},{"g":"C8","s":"r","x":0.93,"y":0.0},{"g":"C8","s":"r","x":0.96,"y":-2.3},{"g":"C8","s":"r","x":0.99,"y":-2.6},{"g":"C8","s":"r","x":1.5,"y":-2.15},{"g":"C8","s":"r","x":1.8,"y":-1.75},{"g":"C8","s":"r","x":1.9,"y":-1.4},{"g":"C8","s":"r","x":1.96,"y":-0.5},{"g":"C8","s":"r","x":2.0,"y":1.2},
{"g":"C9","s":"b","x":0,"y":-0.05},{"g":"C9","s":"b","x":0.1,"y":0.2},{"g":"C9","s":"b","x":0.25,"y":0.55},{"g":"C9","s":"b","x":0.5,"y":0.95},{"g":"C9","s":"b","x":0.75,"y":1.17},{"g":"C9","s":"b","x":0.85,"y":1.2},{"g":"C9","s":"b","x":0.95,"y":1.1},{"g":"C9","s":"b","x":1.0,"y":1.0},{"g":"C9","s":"b","x":1.25,"y":0.55},{"g":"C9","s":"b","x":1.5,"y":0.3},{"g":"C9","s":"b","x":1.75,"y":0.15},{"g":"C9","s":"b","x":2.0,"y":0.05},
{"g":"C9","s":"r","x":0,"y":-0.7},{"g":"C9","s":"r","x":0.03,"y":0.2},{"g":"C9","s":"r","x":0.08,"y":1.1},{"g":"C9","s":"r","x":0.15,"y":1.3},{"g":"C9","s":"r","x":0.25,"y":1.2},{"g":"C9","s":"r","x":0.5,"y":0.9},{"g":"C9","s":"r","x":0.75,"y":0.55},{"g":"C9","s":"r","x":0.88,"y":0.3},{"g":"C9","s":"r","x":0.93,"y":0.0},{"g":"C9","s":"r","x":0.97,"y":-0.9},{"g":"C9","s":"r","x":1.0,"y":-1.3},{"g":"C9","s":"r","x":1.1,"y":-1.25},{"g":"C9","s":"r","x":1.5,"y":-1.0},{"g":"C9","s":"r","x":1.85,"y":-0.8},{"g":"C9","s":"r","x":1.95,"y":-0.95},{"g":"C9","s":"r","x":2.0,"y":-0.7},
{"g":"C10","s":"b","x":0,"y":1.05},{"g":"C10","s":"b","x":0.25,"y":0.65},{"g":"C10","s":"b","x":0.5,"y":0.4},{"g":"C10","s":"b","x":0.75,"y":0.25},{"g":"C10","s":"b","x":0.97,"y":0.1},{"g":"C10","s":"b","x":1.05,"y":0.2},{"g":"C10","s":"b","x":1.15,"y":0.45},{"g":"C10","s":"b","x":1.25,"y":0.7},{"g":"C10","s":"b","x":1.5,"y":1.0},{"g":"C10","s":"b","x":1.75,"y":1.15},{"g":"C10","s":"b","x":1.85,"y":1.15},{"g":"C10","s":"b","x":2.0,"y":1.05},
{"g":"C10","s":"r","x":0,"y":-1.3},{"g":"C10","s":"r","x":0.03,"y":-1.8},{"g":"C10","s":"r","x":0.1,"y":-1.5},{"g":"C10","s":"r","x":0.2,"y":-1.0},{"g":"C10","s":"r","x":0.35,"y":-0.75},{"g":"C10","s":"r","x":0.5,"y":-0.85},{"g":"C10","s":"r","x":0.65,"y":-1.0},{"g":"C10","s":"r","x":0.8,"y":-0.95},{"g":"C10","s":"r","x":0.9,"y":-0.8},{"g":"C10","s":"r","x":0.94,"y":-0.3},{"g":"C10","s":"r","x":0.97,"y":0.5},{"g":"C10","s":"r","x":1.0,"y":1.25},{"g":"C10","s":"r","x":1.25,"y":0.9},{"g":"C10","s":"r","x":1.5,"y":0.55},{"g":"C10","s":"r","x":1.75,"y":0.3},{"g":"C10","s":"r","x":1.9,"y":0.1},{"g":"C10","s":"r","x":1.95,"y":-0.3},{"g":"C10","s":"r","x":2.0,"y":-1.3}
]},
"spacing":2,
"center":true,
"vconcat":[
{"spacing":41,"hconcat":[
 {"spacing":-1,"hconcat":[
  {"spacing":3.75,"bounds":"flush","vconcat":[
   {"width":123,"height":45,"transform":[{"filter":"datum.g=='A1'"}],"mark":"line","encoding":{"x":{"field":"x","type":"quantitative","scale":{"domain":[0,2],"nice":false},"axis":{"values":[0,0.5,1,1.5,2],"labels":false,"title":null}},"y":{"field":"y","type":"quantitative","scale":{"domain":[-3.3,3.35],"nice":false,"zero":false},"axis":{"values":[-2.5,0,2.5],"format":".1f","title":"#1"}},"color":{"field":"s","type":"nominal","legend":null}}},
   {"width":123,"height":45,"transform":[{"filter":"datum.g=='A3'"}],"mark":"line","encoding":{"x":{"field":"x","type":"quantitative","scale":{"domain":[0,2],"nice":false},"axis":{"values":[0,0.5,1,1.5,2],"labels":false,"title":null}},"y":{"field":"y","type":"quantitative","scale":{"domain":[-1.6,1.35],"nice":false,"zero":false},"axis":{"values":[-1,0,1],"format":"d","title":"#3"}},"color":{"field":"s","type":"nominal","legend":null}}},
   {"width":123,"height":45,"transform":[{"filter":"datum.g=='A5'"}],"mark":"line","encoding":{"x":{"field":"x","type":"quantitative","scale":{"domain":[0,2],"nice":false},"axis":{"values":[0,0.5,1,1.5,2],"labels":false,"title":null}},"y":{"field":"y","type":"quantitative","scale":{"domain":[-3.6,3.5],"nice":false,"zero":false},"axis":{"values":[-2.5,0,2.5],"format":".1f","title":"#5"}},"color":{"field":"s","type":"nominal","legend":null}}},
   {"width":123,"height":45,"transform":[{"filter":"datum.g=='A7'"}],"mark":"line","encoding":{"x":{"field":"x","type":"quantitative","scale":{"domain":[0,2],"nice":false},"axis":{"values":[0,0.5,1,1.5,2],"labels":false,"title":null}},"y":{"field":"y","type":"quantitative","scale":{"domain":[-3.19,2.83],"nice":false,"zero":false},"axis":{"values":[-2.5,0,2.5],"format":".1f","title":"#7"}},"color":{"field":"s","type":"nominal","legend":null}}},
   {"width":123,"height":45,"transform":[{"filter":"datum.g=='A9'"}],"mark":"line","encoding":{"x":{"field":"x","type":"quantitative","scale":{"domain":[0,2],"nice":false},"axis":{"values":[0,0.5,1,1.5,2],"labelExpr":"datum.value==0?'0':datum.value==1?'π':format(datum.value,'.1f')+'π'","title":"ΦA"}},"y":{"field":"y","type":"quantitative","scale":{"domain":[-2.36,2.55],"nice":false,"zero":false},"axis":{"values":[-2,0,2],"format":"d","title":"#9"}},"color":{"field":"s","type":"nominal","legend":null}}}
  ]},
  {"spacing":3.75,"bounds":"flush","vconcat":[
   {"width":123,"height":45,"transform":[{"filter":"datum.g=='A2'"}],"mark":"line","encoding":{"x":{"field":"x","type":"quantitative","scale":{"domain":[0,2],"nice":false},"axis":{"values":[0,0.5,1,1.5,2],"labels":false,"title":null}},"y":{"field":"y","type":"quantitative","scale":{"domain":[-3.32,3.37],"nice":false,"zero":false},"axis":{"values":[-2.5,0,2.5],"format":".1f","title":"#2"}},"color":{"field":"s","type":"nominal","legend":null}}},
   {"width":123,"height":45,"transform":[{"filter":"datum.g=='A4'"}],"mark":"line","encoding":{"x":{"field":"x","type":"quantitative","scale":{"domain":[0,2],"nice":false},"axis":{"values":[0,0.5,1,1.5,2],"labels":false,"title":null}},"y":{"field":"y","type":"quantitative","scale":{"domain":[-1.6,1.35],"nice":false,"zero":false},"axis":{"values":[-1,0,1],"format":"d","title":"#4"}},"color":{"field":"s","type":"nominal","legend":null}}},
   {"width":123,"height":45,"transform":[{"filter":"datum.g=='A6'"}],"mark":"line","encoding":{"x":{"field":"x","type":"quantitative","scale":{"domain":[0,2],"nice":false},"axis":{"values":[0,0.5,1,1.5,2],"labels":false,"title":null}},"y":{"field":"y","type":"quantitative","scale":{"domain":[-3.65,3.55],"nice":false,"zero":false},"axis":{"values":[-2.5,0,2.5],"format":".1f","title":"#6"}},"color":{"field":"s","type":"nominal","legend":null}}},
   {"width":123,"height":45,"transform":[{"filter":"datum.g=='A8'"}],"mark":"line","encoding":{"x":{"field":"x","type":"quantitative","scale":{"domain":[0,2],"nice":false},"axis":{"values":[0,0.5,1,1.5,2],"labels":false,"title":null}},"y":{"field":"y","type":"quantitative","scale":{"domain":[-2.95,3.0],"nice":false,"zero":false},"axis":{"values":[-2.5,0,2.5],"format":".1f","title":"#8"}},"color":{"field":"s","type":"nominal","legend":null}}},
   {"width":123,"height":45,"transform":[{"filter":"datum.g=='A10'"}],"mark":"line","encoding":{"x":{"field":"x","type":"quantitative","scale":{"domain":[0,2],"nice":false},"axis":{"values":[0,0.5,1,1.5,2],"labelExpr":"datum.value==0?'0':datum.value==1?'π':format(datum.value,'.1f')+'π'","title":"ΦA"}},"y":{"field":"y","type":"quantitative","scale":{"domain":[-3.5,3.65],"nice":false,"zero":false},"axis":{"values":[-2.5,0,2.5],"format":".1f","title":"#10"}},"color":{"field":"s","type":"nominal","legend":null}}}
  ]}
 ]},
 {"spacing":-1,"hconcat":[
  {"spacing":3.75,"bounds":"flush","vconcat":[
   {"width":123,"height":45,"transform":[{"filter":"datum.g=='B1'"}],"mark":"line","encoding":{"x":{"field":"x","type":"quantitative","scale":{"domain":[0,2],"nice":false},"axis":{"values":[0,0.5,1,1.5,2],"labels":false,"title":null}},"y":{"field":"y","type":"quantitative","scale":{"domain":[-3.45,3.5],"nice":false,"zero":false},"axis":{"values":[-2.5,0,2.5],"format":".1f","title":"#1"}},"color":{"field":"s","type":"nominal","legend":null}}},
   {"width":123,"height":45,"transform":[{"filter":"datum.g=='B3'"}],"mark":"line","encoding":{"x":{"field":"x","type":"quantitative","scale":{"domain":[0,2],"nice":false},"axis":{"values":[0,0.5,1,1.5,2],"labels":false,"title":null}},"y":{"field":"y","type":"quantitative","scale":{"domain":[-3.35,3.4],"nice":false,"zero":false},"axis":{"values":[-2.5,0,2.5],"format":".1f","title":"#3"}},"color":{"field":"s","type":"nominal","legend":null}}},
   {"width":123,"height":45,"transform":[{"filter":"datum.g=='B5'"}],"mark":"line","encoding":{"x":{"field":"x","type":"quantitative","scale":{"domain":[0,2],"nice":false},"axis":{"values":[0,0.5,1,1.5,2],"labels":false,"title":null}},"y":{"field":"y","type":"quantitative","scale":{"domain":[-3.4,3.2],"nice":false,"zero":false},"axis":{"values":[-2.5,0,2.5],"format":".1f","title":"#5"}},"color":{"field":"s","type":"nominal","legend":null}}},
   {"width":123,"height":45,"transform":[{"filter":"datum.g=='B7'"}],"mark":"line","encoding":{"x":{"field":"x","type":"quantitative","scale":{"domain":[0,2],"nice":false},"axis":{"values":[0,0.5,1,1.5,2],"labels":false,"title":null}},"y":{"field":"y","type":"quantitative","scale":{"domain":[-2.73,2.39],"nice":false,"zero":false},"axis":{"values":[-2.5,0],"format":".1f","title":"#7"}},"color":{"field":"s","type":"nominal","legend":null}}},
   {"width":123,"height":45,"transform":[{"filter":"datum.g=='B9'"}],"mark":"line","encoding":{"x":{"field":"x","type":"quantitative","scale":{"domain":[0,2],"nice":false},"axis":{"values":[0,0.5,1,1.5,2],"labelExpr":"datum.value==0?'0':datum.value==1?'π':format(datum.value,'.1f')+'π'","title":"ΦB"}},"y":{"field":"y","type":"quantitative","scale":{"domain":[-3.7,3.65],"nice":false,"zero":false},"axis":{"values":[-2.5,0,2.5],"format":".1f","title":"#9"}},"color":{"field":"s","type":"nominal","legend":null}}}
  ]},
  {"spacing":3.75,"bounds":"flush","vconcat":[
   {"width":123,"height":45,"transform":[{"filter":"datum.g=='B2'"}],"mark":"line","encoding":{"x":{"field":"x","type":"quantitative","scale":{"domain":[0,2],"nice":false},"axis":{"values":[0,0.5,1,1.5,2],"labels":false,"title":null}},"y":{"field":"y","type":"quantitative","scale":{"domain":[-3.45,3.5],"nice":false,"zero":false},"axis":{"values":[-2.5,0,2.5],"format":".1f","title":"#2"}},"color":{"field":"s","type":"nominal","legend":null}}},
   {"width":123,"height":45,"transform":[{"filter":"datum.g=='B4'"}],"mark":"line","encoding":{"x":{"field":"x","type":"quantitative","scale":{"domain":[0,2],"nice":false},"axis":{"values":[0,0.5,1,1.5,2],"labels":false,"title":null}},"y":{"field":"y","type":"quantitative","scale":{"domain":[-3.35,3.4],"nice":false,"zero":false},"axis":{"values":[-2.5,0,2.5],"format":".1f","title":"#4"}},"color":{"field":"s","type":"nominal","legend":null}}},
   {"width":123,"height":45,"transform":[{"filter":"datum.g=='B6'"}],"mark":"line","encoding":{"x":{"field":"x","type":"quantitative","scale":{"domain":[0,2],"nice":false},"axis":{"values":[0,0.5,1,1.5,2],"labels":false,"title":null}},"y":{"field":"y","type":"quantitative","scale":{"domain":[-2.94,2.8],"nice":false,"zero":false},"axis":{"values":[-2.5,0,2.5],"format":".1f","title":"#6"}},"color":{"field":"s","type":"nominal","legend":null}}},
   {"width":123,"height":45,"transform":[{"filter":"datum.g=='B8'"}],"mark":"line","encoding":{"x":{"field":"x","type":"quantitative","scale":{"domain":[0,2],"nice":false},"axis":{"values":[0,0.5,1,1.5,2],"labels":false,"title":null}},"y":{"field":"y","type":"quantitative","scale":{"domain":[-3.38,3.43],"nice":false,"zero":false},"axis":{"values":[-2.5,0,2.5],"format":".1f","title":"#8"}},"color":{"field":"s","type":"nominal","legend":null}}},
   {"width":123,"height":45,"transform":[{"filter":"datum.g=='B10'"}],"mark":"line","encoding":{"x":{"field":"x","type":"quantitative","scale":{"domain":[0,2],"nice":false},"axis":{"values":[0,0.5,1,1.5,2],"labelExpr":"datum.value==0?'0':datum.value==1?'π':format(datum.value,'.1f')+'π'","title":"ΦB"}},"y":{"field":"y","type":"quantitative","scale":{"domain":[-3.09,3.21],"nice":false,"zero":false},"axis":{"values":[-2.5,0,2.5],"format":".1f","title":"#10"}},"color":{"field":"s","type":"nominal","legend":null}}}
  ]}
 ]}
]},
{"spacing":-1,"hconcat":[
  {"spacing":3.75,"bounds":"flush","vconcat":[
   {"width":123,"height":45,"transform":[{"filter":"datum.g=='C1'"}],"mark":"line","encoding":{"x":{"field":"x","type":"quantitative","scale":{"domain":[0,2],"nice":false},"axis":{"values":[0,0.5,1,1.5,2],"labels":false,"title":null}},"y":{"field":"y","type":"quantitative","scale":{"domain":[-2.56,2.76],"nice":false,"zero":false},"axis":{"values":[-2.5,0,2.5],"format":".1f","title":"#1"}},"color":{"field":"s","type":"nominal","legend":null}}},
   {"width":123,"height":45,"transform":[{"filter":"datum.g=='C3'"}],"mark":"line","encoding":{"x":{"field":"x","type":"quantitative","scale":{"domain":[0,2],"nice":false},"axis":{"values":[0,0.5,1,1.5,2],"labels":false,"title":null}},"y":{"field":"y","type":"quantitative","scale":{"domain":[-2.65,2.45],"nice":false,"zero":false},"axis":{"values":[-2.5,0],"format":".1f","title":"#3"}},"color":{"field":"s","type":"nominal","legend":null}}},
   {"width":123,"height":45,"transform":[{"filter":"datum.g=='C5'"}],"mark":"line","encoding":{"x":{"field":"x","type":"quantitative","scale":{"domain":[0,2],"nice":false},"axis":{"values":[0,0.5,1,1.5,2],"labels":false,"title":null}},"y":{"field":"y","type":"quantitative","scale":{"domain":[-3.04,2.58],"nice":false,"zero":false},"axis":{"values":[-2.5,0,2.5],"format":".1f","title":"#5"}},"color":{"field":"s","type":"nominal","legend":null}}},
   {"width":123,"height":45,"transform":[{"filter":"datum.g=='C7'"}],"mark":"line","encoding":{"x":{"field":"x","type":"quantitative","scale":{"domain":[0,2],"nice":false},"axis":{"values":[0,0.5,1,1.5,2],"labels":false,"title":null}},"y":{"field":"y","type":"quantitative","scale":{"domain":[-2.15,1.94],"nice":false,"zero":false},"axis":{"values":[-2,0],"format":"d","title":"#7"}},"color":{"field":"s","type":"nominal","legend":null}}},
   {"width":123,"height":45,"transform":[{"filter":"datum.g=='C9'"}],"mark":"line","encoding":{"x":{"field":"x","type":"quantitative","scale":{"domain":[0,2],"nice":false},"axis":{"values":[0,0.5,1,1.5,2],"labelExpr":"datum.value==0?'0':datum.value==1?'π':format(datum.value,'.1f')+'π'","title":"ΦC"}},"y":{"field":"y","type":"quantitative","scale":{"domain":[-1.49,1.4],"nice":false,"zero":false},"axis":{"values":[-1,0,1],"format":"d","title":"#9"}},"color":{"field":"s","type":"nominal","legend":null}}}
  ]},
  {"spacing":3.75,"bounds":"flush","vconcat":[
   {"width":123,"height":45,"transform":[{"filter":"datum.g=='C2'"}],"mark":"line","encoding":{"x":{"field":"x","type":"quantitative","scale":{"domain":[0,2],"nice":false},"axis":{"values":[0,0.5,1,1.5,2],"labels":false,"title":null}},"y":{"field":"y","type":"quantitative","scale":{"domain":[-3.09,2.95],"nice":false,"zero":false},"axis":{"values":[-2.5,0,2.5],"format":".1f","title":"#2"}},"color":{"field":"s","type":"nominal","legend":null}}},
   {"width":123,"height":45,"transform":[{"filter":"datum.g=='C4'"}],"mark":"line","encoding":{"x":{"field":"x","type":"quantitative","scale":{"domain":[0,2],"nice":false},"axis":{"values":[0,0.5,1,1.5,2],"labels":false,"title":null}},"y":{"field":"y","type":"quantitative","scale":{"domain":[-2.98,2.94],"nice":false,"zero":false},"axis":{"values":[-2.5,0,2.5],"format":".1f","title":"#4"}},"color":{"field":"s","type":"nominal","legend":null}}},
   {"width":123,"height":45,"transform":[{"filter":"datum.g=='C6'"}],"mark":"line","encoding":{"x":{"field":"x","type":"quantitative","scale":{"domain":[0,2],"nice":false},"axis":{"values":[0,0.5,1,1.5,2],"labels":false,"title":null}},"y":{"field":"y","type":"quantitative","scale":{"domain":[-2.0,0.98],"nice":false,"zero":false},"axis":{"values":[-1,0],"format":"d","title":"#6"}},"color":{"field":"s","type":"nominal","legend":null}}},
   {"width":123,"height":45,"transform":[{"filter":"datum.g=='C8'"}],"mark":"line","encoding":{"x":{"field":"x","type":"quantitative","scale":{"domain":[0,2],"nice":false},"axis":{"values":[0,0.5,1,1.5,2],"labels":false,"title":null}},"y":{"field":"y","type":"quantitative","scale":{"domain":[-2.79,2.7],"nice":false,"zero":false},"axis":{"values":[-2.5,0,2.5],"format":".1f","title":"#8"}},"color":{"field":"s","type":"nominal","legend":null}}},
   {"width":123,"height":45,"transform":[{"filter":"datum.g=='C10'"}],"mark":"line","encoding":{"x":{"field":"x","type":"quantitative","scale":{"domain":[0,2],"nice":false},"axis":{"values":[0,0.5,1,1.5,2],"labelExpr":"datum.value==0?'0':datum.value==1?'π':format(datum.value,'.1f')+'π'","title":"ΦC"}},"y":{"field":"y","type":"quantitative","scale":{"domain":[-1.85,1.4],"nice":false,"zero":false},"axis":{"values":[-1,0,1],"format":"d","title":"#10"}},"color":{"field":"s","type":"nominal","legend":null}}}
  ]}
]}
]
}
